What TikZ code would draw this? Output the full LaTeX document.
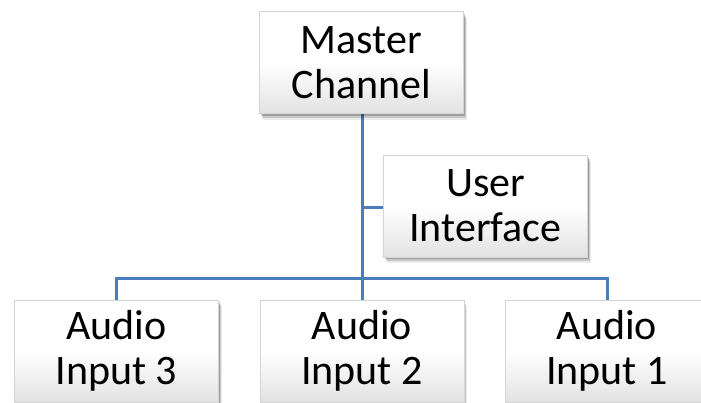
\documentclass[tikz,border=0pt]{standalone}
\usepackage{fontspec}
\setmainfont{Carlito}
\usetikzlibrary{shadows}
\definecolor{linkblue}{HTML}{4A7EBB}
\definecolor{boxline}{HTML}{D4D4D4}
\definecolor{boxbottom}{HTML}{E2E2E2}
\tikzset{
  orgbox/.style={
    rectangle, draw=boxline, line width=0.6pt,
    top color=white, bottom color=boxbottom, middle color=white,
    minimum width=204pt, minimum height=102pt,
    align=center, font=\fontsize{42pt}{45pt}\selectfont,
    drop shadow={shadow xshift=1pt, shadow yshift=-2pt, opacity=0.2, fill=black},
    drop shadow={shadow xshift=2pt, shadow yshift=-4pt, opacity=0.15, fill=black},
    drop shadow={shadow xshift=3pt, shadow yshift=-6pt, opacity=0.08, fill=black},
    inner sep=0pt
  },
  link/.style={draw=linkblue, line width=3pt}
}
\begin{document}
\begin{tikzpicture}[x=1pt, y=-1pt]
  \useasboundingbox (0,0) rectangle (701,402);
  \clip (0,0) rectangle (701,402);
  \fill[white] (0,0) rectangle (701,402);

  % connectors first, boxes on top
  \coordinate (mtop) at (362,113);
  \coordinate (bus) at (362,278);
  \coordinate (uiy) at (362,207);
  \coordinate (a3top) at (116.5,300);
  \coordinate (a2top) at (362,300);
  \coordinate (a1top) at (607,300);
  \coordinate (uileft) at (383,207);

  \draw[link] (mtop) -- (a2top);
  \draw[link] (uiy) -- (uileft);
  \draw[link] (a3top) |- (bus) -| (a1top);

  \node[orgbox] (master) at (361.5,62.5) {Master\\Channel};
  \node[orgbox] (ui) at (485.5,206) {User\\Interface};
  \node[orgbox] (a3) at (116.5,351) {Audio\\Input 3};
  \node[orgbox] (a2) at (362,351) {Audio\\Input 2};
  \node[orgbox] (a1) at (607,351) {Audio\\Input 1};
\end{tikzpicture}
\end{document}
